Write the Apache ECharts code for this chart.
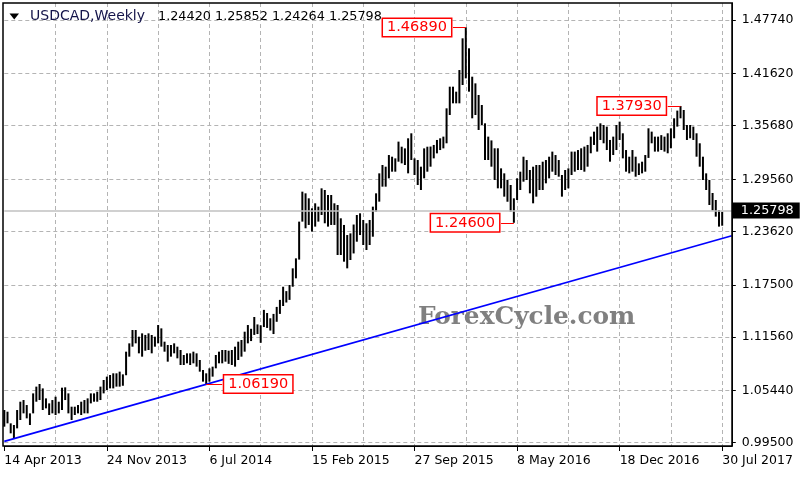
<!DOCTYPE html>
<html>
<head>
<meta charset="utf-8">
<script src="https://cdn.jsdelivr.net/npm/echarts@6/dist/echarts.min.js"></script>
<style>
html,body{margin:0;padding:0;background:#fff;}
#chart{width:800px;height:480px;}
</style>
</head>
<body>
<div id="chart"></div>
<script>
// ---- data ----
var symbolName = 'USDCAD,Weekly';
var lastOHLC = [1.24420, 1.25852, 1.24264, 1.25798];
var startWeek = '2013-04-14';
var weekCount = 228;
var xTickLabels = ['14 Apr 2013','24 Nov 2013','6 Jul 2014','15 Feb 2015','27 Sep 2015','8 May 2016','18 Dec 2016','30 Jul 2017'];
var yTicks = [0.99500, 1.05440, 1.11560, 1.17500, 1.23620, 1.29560, 1.35680, 1.41620, 1.47740];
var highs = [
1.0323,1.0304,1.0171,1.0152,1.0323,1.0418,1.0437,1.0380,1.0285,1.0513,
1.0590,1.0620,1.0570,1.0456,1.0399,1.0437,1.0475,1.0418,1.0578,1.0582,
1.0513,1.0361,1.0361,1.0380,1.0418,1.0437,1.0456,1.0513,1.0513,1.0532,
1.0590,1.0666,1.0704,1.0723,1.0742,1.0742,1.0761,1.0730,1.0989,1.1084,
1.1236,1.1236,1.1160,1.1198,1.1180,1.1198,1.1179,1.1160,1.1293,1.1255,
1.1103,1.1065,1.1065,1.1084,1.1046,1.1008,1.0951,1.0970,1.0970,1.0989,
1.0970,1.0894,1.0780,1.0742,1.0799,1.0818,1.0951,1.0989,1.1008,1.1008,
1.1000,1.1008,1.1046,1.1103,1.1122,1.1217,1.1293,1.1250,1.1385,1.1300,
1.1290,1.1466,1.1430,1.1370,1.1420,1.1500,1.1580,1.1730,1.1680,1.1750,
1.1940,1.2054,1.2473,1.2815,1.2796,1.2739,1.2625,1.2682,1.2644,1.2853,
1.2834,1.2777,1.2777,1.2682,1.2663,1.2511,1.2435,1.2320,1.2339,1.2440,
1.2549,1.2568,1.2492,1.2454,1.2492,1.2644,1.2796,1.3024,1.3119,1.3100,
1.3233,1.3214,1.3195,1.3386,1.3328,1.3309,1.3424,1.3481,1.3195,1.3176,
1.3100,1.3309,1.3328,1.3330,1.3348,1.3405,1.3424,1.3443,1.3766,1.4013,
1.4013,1.3956,1.4203,1.4565,1.4689,1.4451,1.4127,1.4051,1.3918,1.3804,
1.3595,1.3443,1.3400,1.3310,1.3310,1.3081,1.3024,1.2950,1.2891,1.2739,
1.2967,1.3043,1.3214,1.3176,1.3062,1.3100,1.3119,1.3119,1.3157,1.3176,
1.3214,1.3272,1.3233,1.3176,1.3005,1.3062,1.3081,1.3272,1.3272,1.3290,
1.3310,1.3329,1.3348,1.3443,1.3500,1.3557,1.3595,1.3576,1.3557,1.3405,
1.3443,1.3576,1.3614,1.3481,1.3290,1.3214,1.3290,1.3214,1.3138,1.3157,
1.3233,1.3538,1.3500,1.3443,1.3443,1.3460,1.3443,1.3481,1.3538,1.3652,
1.3740,1.3793,1.3747,1.3576,1.3576,1.3557,1.3481,1.3367,1.3214,1.3024,
1.2948,1.2800,1.2720,1.2606,1.25852
];
var lows = [
1.0133,1.0171,1.0057,0.9999,1.0114,1.0209,1.0285,1.0228,1.0152,1.0285,
1.0418,1.0437,1.0323,1.0342,1.0266,1.0285,1.0266,1.0285,1.0323,1.0437,
1.0285,1.0209,1.0266,1.0285,1.0266,1.0285,1.0285,1.0399,1.0418,1.0418,
1.0437,1.0513,1.0551,1.0570,1.0570,1.0590,1.0590,1.0600,1.0720,1.0932,
1.1046,1.1084,1.0970,1.0932,1.1000,1.1008,1.0970,1.1046,1.1084,1.1046,
1.0989,1.0875,1.0932,1.0970,1.0913,1.0837,1.0837,1.0856,1.0837,1.0856,
1.0818,1.0761,1.0647,1.0619,1.0647,1.0704,1.0799,1.0856,1.0856,1.0875,
1.0850,1.0837,1.0818,1.0894,1.0932,1.0989,1.1084,1.1110,1.1180,1.1190,
1.1090,1.1270,1.1260,1.1230,1.1190,1.1330,1.1420,1.1510,1.1550,1.1580,
1.1730,1.1826,1.2040,1.2473,1.2397,1.2435,1.2359,1.2416,1.2473,1.2549,
1.2454,1.2416,1.2435,1.2435,1.2092,1.2092,1.2016,1.1940,1.2035,1.2110,
1.2244,1.2320,1.2206,1.2149,1.2206,1.2301,1.2587,1.2701,1.2872,1.2872,
1.2967,1.3043,1.3043,1.3157,1.3138,1.3119,1.3024,1.3176,1.3005,1.2891,
1.2834,1.2967,1.3043,1.3100,1.3195,1.3252,1.3290,1.3309,1.3367,1.3690,
1.3823,1.3823,1.3823,1.4032,1.4108,1.3956,1.3652,1.3690,1.3519,1.3576,
1.3176,1.3176,1.3100,1.2948,1.2853,1.2853,1.2758,1.2700,1.2587,1.2460,
1.2720,1.2834,1.2929,1.2948,1.2796,1.2682,1.2758,1.2834,1.2834,1.2910,
1.2967,1.3043,1.3005,1.2986,1.2758,1.2834,1.2853,1.3005,1.3043,1.3062,
1.3062,1.3043,1.3100,1.3253,1.3348,1.3272,1.3405,1.3367,1.3290,1.3157,
1.3233,1.3290,1.3405,1.3195,1.3043,1.3024,1.3043,1.2986,1.3005,1.3024,
1.3043,1.3200,1.3367,1.3272,1.3272,1.3290,1.3272,1.3253,1.3310,1.3424,
1.3557,1.3652,1.3519,1.3405,1.3424,1.3405,1.3214,1.3100,1.2948,1.2834,
1.2663,1.2600,1.2530,1.2416,1.24264
];
var trendBars = [0, 227];
var trendValues = [0.9965, 1.2312];
var annBars = [144, 211, 159, 63];
var annPrices = [1.46890, 1.37930, 1.24600, 1.06190];
var annSide = [-1, -1, -1, 1];

// ---- build ----
var MONTHS = ['Jan','Feb','Mar','Apr','May','Jun','Jul','Aug','Sep','Oct','Nov','Dec'];
var categories = [];
var t0 = Date.parse(startWeek + 'T00:00:00Z');
for (var i = 0; i < weekCount; i++) {
  var d = new Date(t0 + i * 7 * 86400000);
  categories.push(d.getUTCDate() + ' ' + MONTHS[d.getUTCMonth()] + ' ' + d.getUTCFullYear());
}
var barData = highs.map(function (h, i) { return [i, h, lows[i]]; });

var FONT = '"DejaVu Sans", Tahoma, sans-serif';
var yMin = 0.99125, yMax = 1.49680;

var annLines = annBars.map(function (b, k) {
  var lbl = {
    show: true, position: 'end', formatter: annPrices[k].toFixed(5),
    color: '#ff0000', fontSize: 14.5, fontFamily: FONT,
    backgroundColor: '#ffffff', borderColor: '#ff0000', borderWidth: 1.5,
    padding: [2, 4, 0, 4], distance: 2
  };
  var ls = { color: '#ff0000', width: 1, type: 'solid' };
  var endBar = annSide[k] < 0 ? b - 4 : b + 5;
  return [
    { coord: [b, annPrices[k]], label: lbl, lineStyle: ls },
    { coord: [endBar, annPrices[k]], label: lbl, lineStyle: ls }
  ];
});

var chart = echarts.init(document.getElementById('chart'), null, { renderer: 'canvas' });
var gridStyle = { color: '#b4b4b4', width: 1, type: [4, 3] };

chart.setOption({
  animation: false,
  backgroundColor: '#ffffff',
  textStyle: { fontFamily: FONT },
  grid: { left: 4.3, right: 68.2, top: 3, bottom: 34, containLabel: false },
  xAxis: {
    type: 'category', data: categories, boundaryGap: false,
    axisLine: { show: true, lineStyle: { color: '#000', width: 1 } },
    axisTick: { show: true, interval: function (i) { return i % 32 === 0; }, length: 5, lineStyle: { color: '#000' } },
    axisLabel: {
      interval: function (i) { return i % 32 === 0; },
      formatter: function (v, i) { return i % 32 === 0 ? (xTickLabels[i / 32] || '') : ''; },
      align: 'left', margin: 8, color: '#000', fontSize: 12.5, fontFamily: FONT
    },
    splitLine: { show: true, interval: function (i) { return i % 16 === 0 && i > 0; }, lineStyle: gridStyle }
  },
  yAxis: {
    type: 'value', position: 'right', min: yMin, max: yMax, scale: true,
    axisLine: { show: true, lineStyle: { color: '#000', width: 1 } },
    axisTick: { show: true, customValues: yTicks, length: 4, inside: false, lineStyle: { color: '#000' } },
    axisLabel: { customValues: yTicks, formatter: function (v) { return v.toFixed(5); }, margin: 10, color: '#000', fontSize: 12.5, fontFamily: FONT },
    splitLine: { show: true, lineStyle: gridStyle }
  },
  graphic: [
    { type: 'rect', shape: { x: 3, y: 3, width: 729, height: 443 }, style: { stroke: '#000', fill: null, lineWidth: 1.5 }, z: 100, silent: true },
    { type: 'polygon', shape: { points: [[9.5, 13.5], [19, 13.5], [14.25, 19.5]] }, style: { fill: '#000' }, z: 101 },
    { type: 'text', x: 30, y: 16.5, style: { text: symbolName, font: '14px ' + FONT, fill: '#14144a', verticalAlign: 'middle' }, z: 101 },
    { type: 'text', x: 158, y: 16.5, style: { text: lastOHLC.map(function (v) { return v.toFixed(5); }).join(' '), font: '12.8px ' + FONT, fill: '#000', verticalAlign: 'middle' }, z: 101 },
    { type: 'text', x: 418, y: 305, style: { text: 'ForexCycle.com', font: 'bold 24.8px "DejaVu Serif", serif', fill: '#808080' }, z: 1 }
  ],
  series: [
    {
      type: 'custom',
      z: 3,
      data: barData,
      encode: { x: 0, y: [1, 2] },
      renderItem: function (params, api) {
        var x = api.value(0);
        var p1 = api.coord([x, api.value(1)]);
        var p2 = api.coord([x, api.value(2)]);
        return { type: 'line', shape: { x1: p1[0], y1: p1[1], x2: p2[0], y2: p2[1] }, style: { stroke: '#000', lineWidth: 2 } };
      }
    },
    {
      type: 'line',
      z: 4,
      clip: false,
      symbol: 'none',
      lineStyle: { color: '#0000ff', width: 1.7 },
      data: trendBars.map(function (b, k) { return [b, trendValues[k]]; }),
      markLine: {
        silent: true,
        symbol: ['none', 'none'],
        animation: false,
        data: [
          {
            yAxis: lastOHLC[3],
            lineStyle: { color: '#c0c0c0', width: 1.5, type: 'solid' },
            label: {
              show: true, position: 'end', formatter: lastOHLC[3].toFixed(5),
              color: '#ffffff', backgroundColor: '#000000', fontSize: 12.8, fontFamily: FONT,
              padding: [2, 6, 1, 8], distance: 1
            }
          }
        ].concat(annLines)
      }
    }
  ]
});
</script>
</body>
</html>
